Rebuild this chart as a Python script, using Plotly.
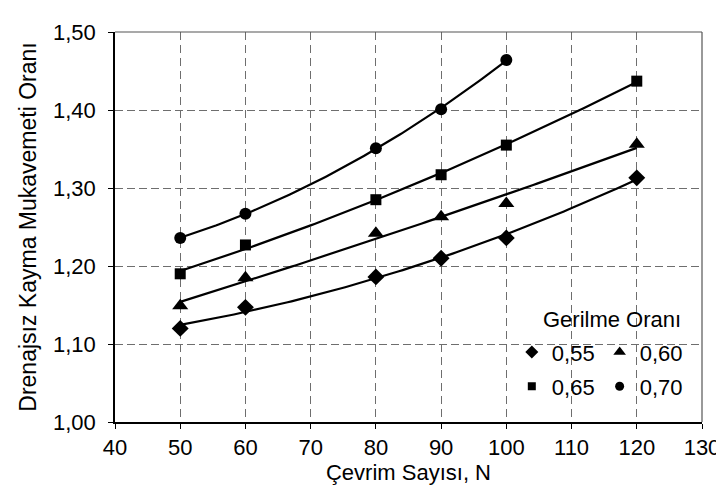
import numpy as np
import plotly.graph_objects as go

# Çevrim sayısı (N) ve drenajsız kayma mukavemeti oranı, gerilme oranına göre
N_055 = [50, 60, 80, 90, 100, 120]
R_055 = [1.120, 1.147, 1.186, 1.210, 1.236, 1.313]

N_060 = [50, 60, 80, 90, 100, 120]
R_060 = [1.149, 1.185, 1.242, 1.263, 1.280, 1.356]

N_065 = [50, 60, 80, 90, 100, 120]
R_065 = [1.190, 1.227, 1.285, 1.317, 1.355, 1.437]

N_070 = [50, 60, 80, 90, 100]
R_070 = [1.236, 1.267, 1.351, 1.401, 1.464]

# name, x, y, symbol, marker size, legend marker size, legend row
SERIES = [
    ("0,55", N_055, R_055, "diamond", 13, 10, "legend"),
    ("0,60", N_060, R_060, "triangle-up", 14, 11, "legend"),
    ("0,65", N_065, R_065, "square", 11, 8, "legend2"),
    ("0,70", N_070, R_070, "circle", 12, 9, "legend2"),
]

FONT = "Liberation Sans, Arial, sans-serif"
FS = 22

fig = go.Figure()

# 2. derece polinom eğilim çizgileri (Excel trendline gibi)
for name, xs, ys, sym, size, lsize, lg in SERIES:
    coef = np.polyfit(xs, ys, 2)
    xx = np.linspace(min(xs), max(xs), 120)
    fig.add_trace(go.Scatter(
        x=xx, y=np.polyval(coef, xx), mode="lines",
        line=dict(color="black", width=2.2), showlegend=False, hoverinfo="skip",
    ))

for name, xs, ys, sym, size, lsize, lg in SERIES:
    fig.add_trace(go.Scatter(
        x=xs, y=ys, mode="markers", name=name, showlegend=False,
        marker=dict(symbol=sym, size=size, color="black"),
    ))

# legend-only entries with smaller symbols
for name, xs, ys, sym, size, lsize, lg in SERIES:
    fig.add_trace(go.Scatter(
        x=[None], y=[None], mode="markers", name=name, legend=lg,
        marker=dict(symbol=sym, size=lsize, color="black"),
    ))

grid = dict(showgrid=True, gridcolor="#6e6e6e", gridwidth=1)
tfont = dict(size=FS, color="black", family=FONT)
titlefont = dict(size=23, color="black", family=FONT)

fig.update_xaxes(
    range=[40, 130], dtick=10, tick0=40, **grid, griddash="8px,5px",
    showline=True, linecolor="black", linewidth=1.5,
    ticks="outside", ticklen=5, tickcolor="black", tickfont=tfont,
    title=dict(text="Çevrim Sayısı, N", font=dict(size=22, color="black", family=FONT), standoff=0),
    zeroline=False,
)
fig.update_yaxes(
    range=[1.0, 1.5], dtick=0.1, tick0=1.0, tickformat=".2f", **grid, griddash="8px,4px",
    showline=True, linecolor="black", linewidth=1.5,
    ticks="outside", ticklen=5, tickcolor="black", tickfont=tfont,
    ticklabelstandoff=8,
    title=dict(text="Drenajsız Kayma Mukavemeti Oranı", font=titlefont, standoff=10),
    zeroline=False,
)

# top and right frame
fig.add_shape(type="line", xref="paper", yref="paper", x0=0, x1=1, y0=1, y1=1,
              line=dict(color="#555555", width=1.2))
fig.add_shape(type="line", xref="paper", yref="paper", x0=1, x1=1, y0=0, y1=1,
              line=dict(color="#555555", width=1.2))
# legend background
fig.add_shape(type="rect", xref="paper", yref="paper", x0=0.685, x1=0.99, y0=0.02, y1=0.292,
              fillcolor="white", line=dict(width=0), layer="between")

fig.add_annotation(text="Gerilme Oranı", xref="paper", yref="paper", x=0.847, y=0.262,
                   xanchor="center", yanchor="middle", showarrow=False, font=tfont)

leg = dict(orientation="h", x=0.676, xanchor="left", yanchor="top",
           bgcolor="rgba(0,0,0,0)", font=tfont, itemwidth=30)

fig.update_layout(
    width=724, height=486,
    margin=dict(l=107, r=21, t=17, b=72),
    plot_bgcolor="white", paper_bgcolor="white",
    separators=",.",
    font=dict(family=FONT, size=FS, color="black"),
    legend=dict(leg, y=0.233),
    legend2=dict(leg, y=0.145),
)

fig.write_html("out.html")
